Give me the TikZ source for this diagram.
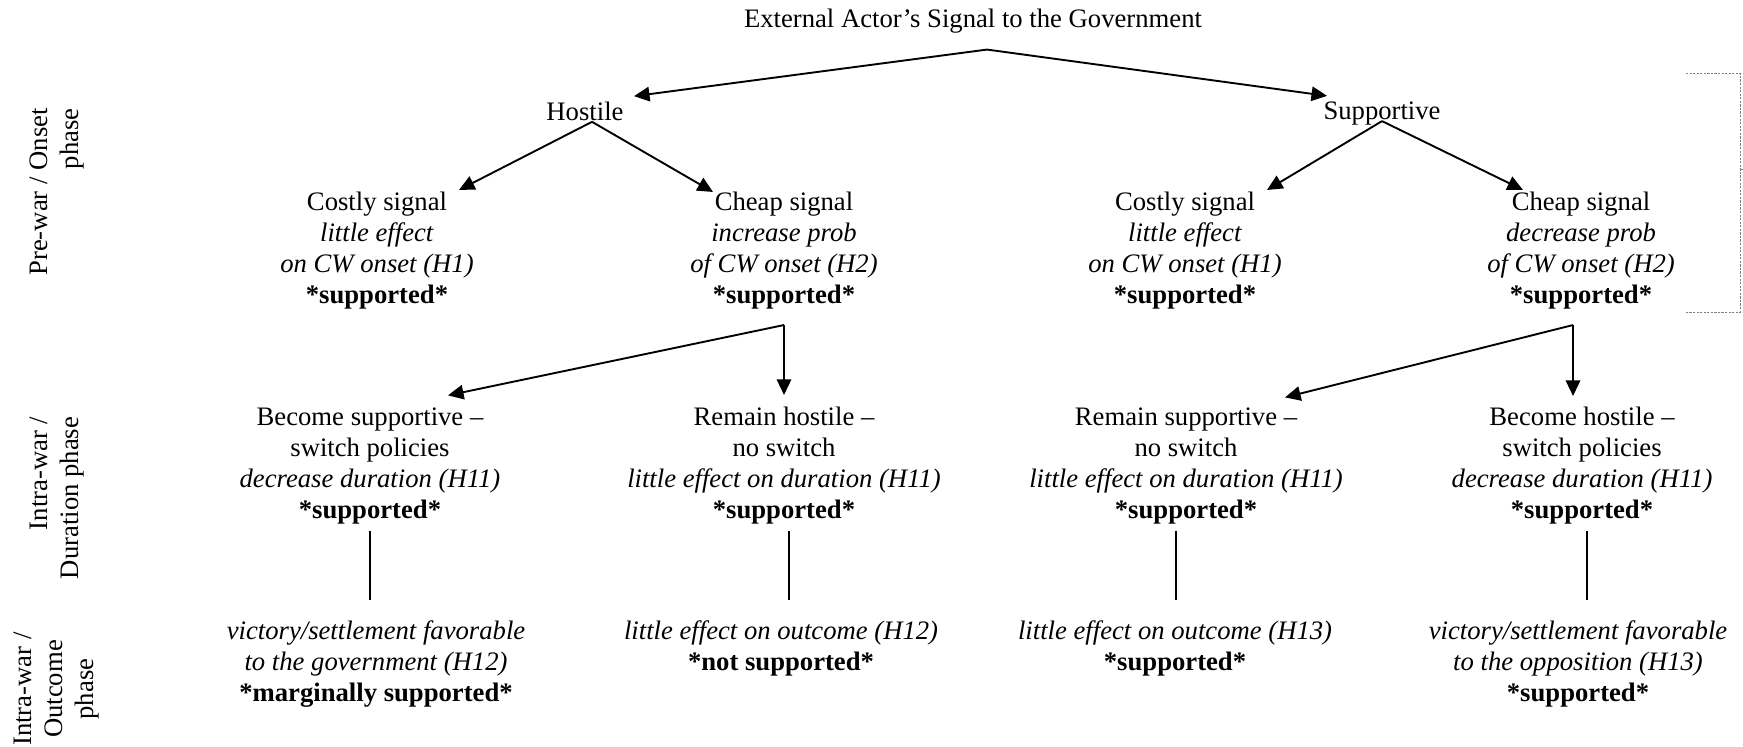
\documentclass[tikz,border=0pt]{standalone}
\usepackage{fontspec}
\setmainfont{Liberation Serif}
\usetikzlibrary{arrows.meta,calc}

\begin{document}
\begin{tikzpicture}[x=0.45pt, y=-0.45pt,
    txt/.style={inner sep=0pt, align=center, font=\fontsize{12}{13.95}\selectfont},
    side/.style={txt, rotate=90},
    arr/.style={line width=0.85pt, -{Triangle[length=7pt,width=6.5pt]}},
    ln/.style={line width=0.85pt}]
    \useasboundingbox (0,0) rectangle (1743,747);
    \node[txt] (signal) at (973,21) {External Actor's Signal to the Government};
    \node[txt] (hostile) at (585,111) {Hostile};
    \node[txt] (supportive) at (1382,114) {Supportive};
    \node[txt] (costH) at (377,251) {Costly signal\\ \textit{little effect}\\ \textit{on CW onset (H1)}\\ \textbf{*supported*}};
    \node[txt] (cheapH) at (784,251) {Cheap signal\\ \textit{increase prob}\\ \textit{of CW onset (H2)}\\ \textbf{*supported*}};
    \node[txt] (costS) at (1185,251) {Costly signal\\ \textit{little effect}\\ \textit{on CW onset (H1)}\\ \textbf{*supported*}};
    \node[txt] (cheapS) at (1581,251) {Cheap signal\\ \textit{decrease prob}\\ \textit{of CW onset (H2)}\\ \textbf{*supported*}};
    \node[txt] (becS) at (370,466) {Become supportive –\\ switch policies\\ \textit{decrease duration (H11)}\\ \textbf{*supported*}};
    \node[txt] (remH) at (784,466) {Remain hostile –\\ no switch\\ \textit{little effect on duration (H11)}\\ \textbf{*supported*}};
    \node[txt] (remS) at (1186,466) {Remain supportive –\\ no switch\\ \textit{little effect on duration (H11)}\\ \textbf{*supported*}};
    \node[txt] (becH) at (1582,466) {Become hostile –\\ switch policies\\ \textit{decrease duration (H11)}\\ \textbf{*supported*}};
    \node[txt] (vicGov) at (376,664) {\textit{victory/settlement favorable}\\ \textit{to the government (H12)}\\ \textbf{*marginally supported*}};
    \node[txt] (noEffH) at (781,648) {\textit{little effect on outcome (H12)}\\ \textbf{*not supported*}};
    \node[txt] (noEffS) at (1175,648) {\textit{little effect on outcome (H13)}\\ \textbf{*supported*}};
    \node[txt] (vicOpp) at (1578,664) {\textit{victory/settlement favorable}\\ \textit{to the opposition (H13)}\\ \textbf{*supported*}};
    \node[side, align=right] (onset) at (57,192) {Pre-war / Onset\\ phase};
    \node[side, align=right] (duration) at (57,498) {Intra-war /\\ Duration phase};
    \node[side] (outcome) at (57,689) {Intra-war /\\ Outcome\\ phase};
    \draw[arr] ($(signal.south)+(14,16)$) -- ($(hostile.north east)+(10,-5)$);
    \draw[arr] ($(signal.south)+(14,16)$) -- ($(supportive.north west)+(4,-6)$);
    \draw[arr] ($(hostile.south)+(7,1)$) -- ($(costH.north)+(82,-2)$);
    \draw[arr] ($(hostile.south)+(7,1)$) -- ($(cheapH.north)+(-71,0)$);
    \draw[arr] ($(supportive.south)+(0,-5)$) -- ($(costS.north)+(82,-2)$);
    \draw[arr] ($(supportive.south)+(0,-5)$) -- ($(cheapS.north)+(-58,-2)$);
    \draw[arr] ($(cheapH.south)+(0,15)$) -- ($(becS.north)+(78,-12)$);
    \draw[arr] ($(cheapH.south)+(0,15)$) -- ($(remH.north)+(0,-12)$);
    \draw[arr] ($(cheapS.south)+(-8,15)$) -- ($(remS.north)+(99,-10)$);
    \draw[arr] ($(cheapS.south)+(-8,15)$) -- ($(becH.north)+(-9,-11)$);
    \draw[ln] ($(becS.south)+(0,6)$) -- ($(becS.south |- vicGov.north)+(0,-20)$);
    \draw[ln] ($(remH.south)+(5,6)$) -- ($(remH.south |- noEffH.north)+(5,-20)$);
    \draw[ln] ($(remS.south)+(-10,6)$) -- ($(remS.south |- noEffS.north)+(-10,-20)$);
    \draw[ln] ($(becH.south)+(5,6)$) -- ($(becH.south |- vicOpp.north)+(5,-20)$);
    \draw[gray, line width=0.4pt, dash pattern=on 1pt off 0.6pt] (1686,73) -- (1740,73) -- (1740,312) -- (1686,312);
    \draw[gray, line width=0.4pt] (1740,169) -- (1743,169);
\end{tikzpicture}
\end{document}
